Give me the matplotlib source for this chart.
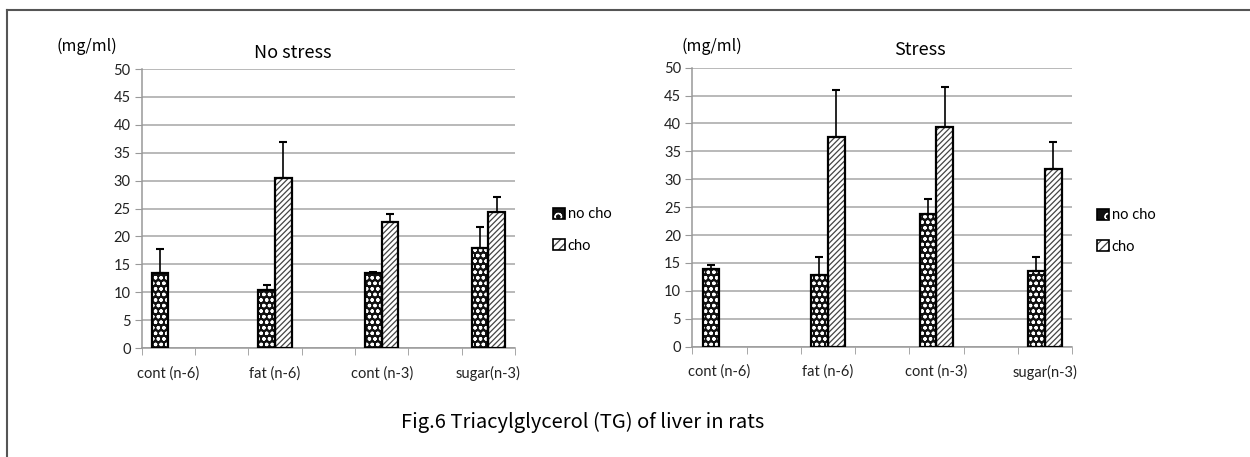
import numpy as np
import matplotlib
matplotlib.use("Agg")
import matplotlib.pyplot as plt
from matplotlib.patches import Patch
from matplotlib.lines import Line2D

groups = ['cont (n-6)', 'fat (n-6)', 'cont (n-3)', 'sugar(n-3)']
series = ['no cho', 'cho']

# No stress
ns_nocho = [13.5, 10.4, 13.5, 18.0]
ns_nocho_top = [17.8, 11.3, 13.7, 21.7]
ns_cho = [np.nan, 30.4, 22.5, 24.4]
ns_cho_top = [np.nan, 37.0, 24.1, 27.0]

# Stress
st_nocho = [14.0, 12.9, 23.8, 13.6]
st_nocho_top = [14.6, 16.1, 26.5, 16.1]
st_cho = [np.nan, 37.5, 39.4, 31.8]
st_cho_top = [np.nan, 46.0, 46.6, 36.6]

yticks = list(range(0, 51, 5))

plt.rcParams['font.family'] = ['Lato', 'DejaVu Sans']
plt.rcParams['hatch.linewidth'] = 0.9
jp = ['Noto Sans CJK JP', 'DejaVu Sans']

fig = plt.figure(figsize=(12.5, 4.57), dpi=100)

W = 0.31
x = np.arange(len(groups)) * 2


def hbar(ax, xs, vals, face, hcol, hatch):
    ax.bar(xs, vals, W, facecolor=face, edgecolor=hcol, hatch=hatch, linewidth=0, zorder=3)
    ax.bar(xs, vals, W, fill=False, edgecolor='black', linewidth=1.6, zorder=4)


def panel(rect, nocho, nocho_top, cho, cho_top, leg_xy):
    ax = fig.add_axes(rect)
    n = np.array(nocho); c = np.array(cho)
    hbar(ax, x - W / 2, n, '#111111', 'white', 'ooo')
    hbar(ax, x + W / 2, c, 'white', '#444444', '//////')
    ax.errorbar(x - W / 2, n, yerr=[np.zeros(len(n)), np.array(nocho_top) - n],
                fmt='none', ecolor='black', elinewidth=1.2, capsize=3, capthick=1.5, zorder=5)
    ax.errorbar(x + W / 2, c, yerr=[np.zeros(len(c)), np.array(cho_top) - c],
                fmt='none', ecolor='black', elinewidth=1.2, capsize=3, capthick=1.5, zorder=5)
    ax.set_xlim(-0.5, 6.5)
    ax.set_ylim(0, 50)
    ax.set_yticks(yticks)
    ax.set_xticks(x)
    ax.set_xticklabels(groups, fontsize=10.5, color='#222222')
    ax.set_xticks(np.arange(-0.5, 7, 1), minor=True)
    ax.tick_params(axis='x', which='major', length=0, pad=13)
    ax.tick_params(axis='x', which='minor', length=5, color='#999999', direction='out')
    ax.tick_params(axis='y', length=5, color='#999999', labelsize=10.5, labelcolor='#222222', pad=3)
    ax.grid(axis='y', color='#a6a6a6', linewidth=1.1, zorder=0)
    ax.set_axisbelow(True)
    for s in ['top', 'right']:
        ax.spines[s].set_visible(False)
    for s in ['left', 'bottom']:
        ax.spines[s].set_color('#999999')
        ax.spines[s].set_linewidth(1.1)
    h1 = (Patch(facecolor='#111111', edgecolor='white', hatch='o', linewidth=0),
          Patch(fill=False, edgecolor='black', linewidth=1.2))
    h2 = (Patch(facecolor='white', edgecolor='#444444', hatch='////', linewidth=0),
          Patch(fill=False, edgecolor='black', linewidth=1.2))
    fig.legend(handles=[h1, h2], labels=series, loc='upper left', bbox_to_anchor=leg_xy,
               frameon=False, fontsize=10.5, handlelength=0.8, handleheight=0.8,
               handletextpad=0.2, labelspacing=1.2, borderpad=0)
    return ax


panel([0.1133, 0.2385, 0.2987, 0.6105], ns_nocho, ns_nocho_top, ns_cho, ns_cho_top,
      (546 / 1250, 1 - 200 / 457))
panel([0.5538, 0.2414, 0.3038, 0.6105], st_nocho, st_nocho_top, st_cho, st_cho_top,
      (1090 / 1250, 1 - 201 / 457))

fig.text(293 / 1250, 1 - 53 / 457, 'No stress', ha='center', va='center', fontsize=13, family=jp)
fig.text(920 / 1250, 1 - 50 / 457, 'Stress', ha='center', va='center', fontsize=13, family=jp)
fig.text(87 / 1250, 1 - 46 / 457, '(mg/ml)', ha='center', va='center', fontsize=11.5, family=jp)
fig.text(712 / 1250, 1 - 46 / 457, '(mg/ml)', ha='center', va='center', fontsize=11.5, family=jp)
fig.text(583 / 1250, 1 - 422 / 457, 'Fig.6 Triacylglycerol (TG) of liver in rats',
         ha='center', va='center', fontsize=14.5, family=jp)

# frame around figure
fig.add_artist(Line2D([7 / 1250, 7 / 1250], [0, 1 - 10 / 457], color='#555555', lw=1.5))
fig.add_artist(Line2D([7 / 1250, 1], [1 - 10 / 457, 1 - 10 / 457], color='#555555', lw=1.5))

fig.savefig('out.png', dpi=100)
